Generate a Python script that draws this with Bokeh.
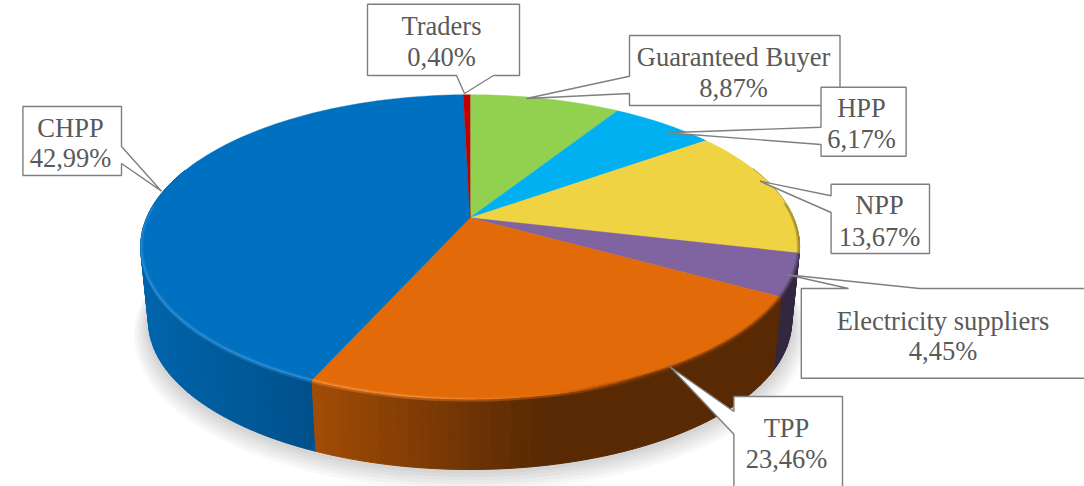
import numpy as np
from bokeh.plotting import figure
from bokeh.models import Range1d
from bokeh.core.properties import value
from bokeh.embed import file_html
from bokeh.resources import INLINE

# ---- data -----
categories = ["Guaranteed Buyer", "HPP", "NPP", "Electricity suppliers", "TPP", "CHPP", "Traders"]
shares = [8.87, 6.17, 13.67, 4.45, 23.46, 42.99, 0.40]
share_labels = ["8,87%", "6,17%", "13,67%", "4,45%", "23,46%", "42,99%", "0,40%"]
top_colors = ["#92d050", "#00b0f0", "#f0d342", "#8064a2", "#e26a08", "#0070c0", "#c00000"]

# ---- layout of the 3-D pie (page pixels) -----
CX, CY = 469.6, 217.3
A, B, K = 323.5, 146.5, 0.19
BOTTOM_SCALE, BOTTOM_CY = 0.976, 292.5
shade_x = [140, 313, 463, 540, 800]
shade_f = [0.90, 0.72, 0.50, 0.39, 0.39]
rim_x = [140, 400, 560, 640, 800]
rim_f = [0.2, 0.2, 0.0, -0.45, -0.45]


def proj(t, r=1.0, scale=1.0, cy=CY, dy=0.0):
    x, d = r * np.sin(t), r * np.cos(t)
    w = 1 + K * d
    return CX + scale * A * x / w, cy - scale * B * d / w + dy


def rgb(c):
    return np.array([int(c[i:i + 2], 16) for i in (1, 3, 5)], float)


def hexa(v):
    v = np.clip(np.round(v), 0, 255).astype(int)
    return "#%02x%02x%02x" % tuple(v)


def rim_colour(c, f):
    c = rgb(c)
    return hexa(c + (255 - c) * f * 0.9 + c * f * 0.25) if f > 0 else hexa(c * (1 + f))


fracs = np.cumsum([0] + shares) / sum(shares) * 2 * np.pi
STEP = np.radians(1.5)

p = figure(width=1084, height=486, x_range=Range1d(0, 1084), y_range=Range1d(486, 0),
           toolbar_location=None, output_backend="svg", min_border=0,
           x_axis_location=None, y_axis_location=None, outline_line_color=None,
           background_fill_color="white", border_fill_color="white")
p.grid.visible = False

# soft shadow
tt = np.linspace(0, 2 * np.pi, 181)
for e, dy in zip([0.045, 0.037, 0.03, 0.022, 0.015, 0.008], [13, 11, 9, 7, 5, 3]):
    sx, sy = proj(tt, scale=BOTTOM_SCALE * (1 + e), cy=BOTTOM_CY, dy=dy)
    p.patch(sx, sy, fill_color="#000000", fill_alpha=0.028, line_color=None)

# side strips
strips = []
for i, c in enumerate(top_colors):
    n = max(1, int(np.ceil((fracs[i + 1] - fracs[i]) / STEP)))
    edges = np.linspace(fracs[i], fracs[i + 1], n + 1)
    for t0, t1 in zip(edges[:-1], edges[1:]):
        if np.cos((t0 + t1) / 2) > 0.35:
            continue
        xa, ya = proj(np.array([t0, t1]))
        xb, yb = proj(np.array([t1, t0]), scale=BOTTOM_SCALE, cy=BOTTOM_CY)
        mx = (xa.mean() + xb.mean()) / 2
        col = hexa(rgb(c) * np.interp(mx, shade_x, shade_f))
        strips.append((-np.cos((t0 + t1) / 2), list(xa) + list(xb), list(ya) + list(yb), col))
strips.sort(key=lambda s: s[0])
p.patches([s[1] for s in strips], [s[2] for s in strips], fill_color=[s[3] for s in strips],
          line_color=[s[3] for s in strips], line_width=1.0)

# top face
for i, c in enumerate(top_colors):
    ts = np.linspace(fracs[i], fracs[i + 1], max(3, int((fracs[i + 1] - fracs[i]) / STEP) + 2))
    x, y = proj(ts)
    p.patch([CX] + list(x), [CY] + list(y), fill_color=c, line_color=c, line_width=0.4)

# bevel along the visible rim
bands = [(0.992, 0.0, 0.997, 0.0, 0.4), (0.997, 0.0, 1.0, 1.0, 1.0), (1.0, 1.0, 1.0, 3.0, 0.4)]
for r0, d0, r1, d1, w in bands:
    xs, ys, cs = [], [], []
    for i, c in enumerate(top_colors):
        n = max(1, int(np.ceil((fracs[i + 1] - fracs[i]) / STEP)))
        edges = np.linspace(fracs[i], fracs[i + 1], n + 1)
        for t0, t1 in zip(edges[:-1], edges[1:]):
            if np.cos((t0 + t1) / 2) > 0.1:
                continue
            xa, ya = proj(np.array([t0, t1]), r=r0, dy=d0)
            xb, yb = proj(np.array([t1, t0]), r=r1, dy=d1)
            f = np.interp(xa.mean(), rim_x, rim_f)
            col = rim_colour(c, f)
            xs.append(list(xa) + list(xb))
            ys.append(list(ya) + list(yb))
            cs.append(col)
    p.patches(xs, ys, fill_color=cs, line_color=None, fill_alpha=w)

# callouts: box (l, r, t, b), pointer side, base a, base b, tip x, tip y, text x, line y's
callouts = {
    "Guaranteed Buyer": (629, 839.5, 35, 105, "left", 75.7, 93, 526, 98, 733, 56, 87),
    "HPP": (820.5, 905.6, 86.7, 155.7, "left", 126.7, 144, 666.7, 132.3, 861, 107, 138),
    "NPP": (830.6, 929, 183.7, 253, "left", 195.3, 212, 759.4, 180.7, 879, 204, 236),
    "Electricity suppliers": (800.8, 1090, 288, 377.7, "top", 848, 919, 787, 274.3, 942.5, 320, 350),
    "TPP": (733.4, 842, 396, 500, "left", 411, 433.7, 669.5, 366.3, 786, 427, 458),
    "CHPP": (22.4, 121, 106, 175, "right", 146, 163, 161, 190.7, 70, 127, 157),
    "Traders": (367, 519, 3.7, 75, "bottom", 493, 456, 464, 93, 441, 25, 56),
}
for name, lab in zip(categories, share_labels):
    l, r, t, b, side, a0, a1, tx, ty, lx, y1, y2 = callouts[name]
    if side == "left":
        xs = [l, r, r, l, l, tx, l]
        ys = [t, t, b, b, a1, ty, a0]
    elif side == "right":
        xs = [l, r, r, tx, r, r, l]
        ys = [t, t, a0, ty, a1, b, b]
    elif side == "top":
        xs = [l, a0, tx, a1, r, r, l]
        ys = [t, t, ty, t, t, b, b]
    else:
        xs = [l, r, r, a0, tx, a1, l]
        ys = [t, t, b, b, ty, b, b]
    p.patch(xs, ys, fill_color="white", line_color="#7f7f7f", line_width=1.4)
    p.text([lx, lx], [y1, y2], text=[name, lab], text_font=value("Liberation Serif"),
           text_font_size="26.5px", text_color="#595959", text_align="center",
           text_baseline="middle")

open("out.html", "w").write(file_html(p, INLINE))
